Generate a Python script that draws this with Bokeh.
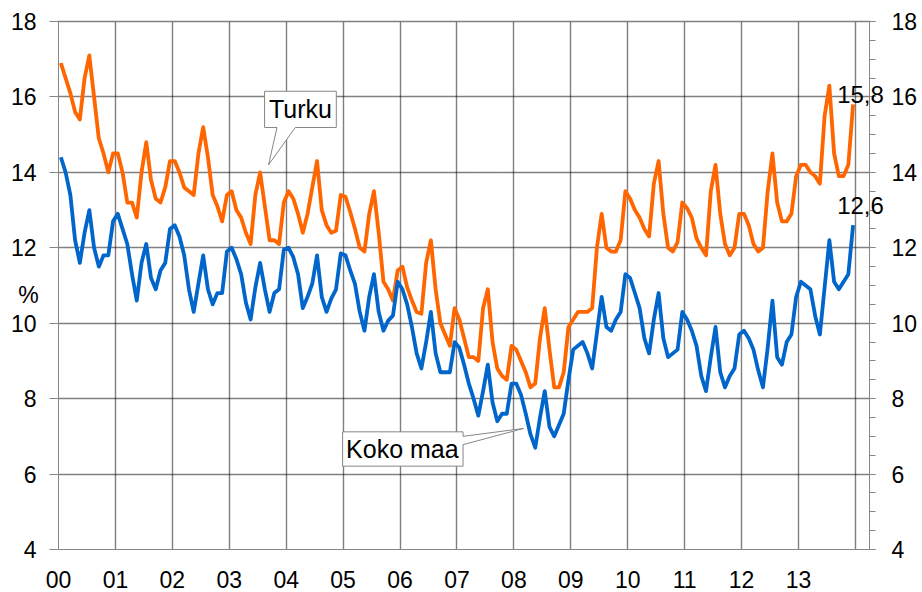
from bokeh.plotting import figure
from bokeh.models import (Range1d, LinearAxis, SingleIntervalTicker, FixedTicker,
                          Label, ColumnDataSource, Grid)
from bokeh.embed import file_html
from bokeh.resources import INLINE
import numpy as np

# ---------------- data ----------------
year_labels = ["00", "01", "02", "03", "04", "05", "06", "07", "08", "09", "10", "11", "12", "13"]

turku = [
    16.9, 16.5, 16.1, 15.6, 15.4, 16.5, 17.1, 16.0, 14.9, 14.5, 14.0, 14.5,
    14.5, 14.0, 13.2, 13.2, 12.8, 14.0, 14.8, 13.8, 13.3, 13.2, 13.6, 14.3,
    14.3, 14.0, 13.6, 13.5, 13.4, 14.5, 15.2, 14.4, 13.4, 13.1, 12.7, 13.4,
    13.5, 13.0, 12.8, 12.4, 12.1, 13.4, 14.0, 13.1, 12.2, 12.2, 12.1, 13.2,
    13.5, 13.3, 12.9, 12.4, 12.9, 13.6, 14.3, 13.0, 12.6, 12.4, 12.45, 13.4,
    13.35, 12.95, 12.5, 12.0, 11.9, 12.9, 13.5, 12.4, 11.1, 10.9, 10.6, 11.4,
    11.5, 10.95, 10.6, 10.3, 10.25, 11.6, 12.2, 10.9, 10.0, 9.7, 9.4, 10.4,
    10.1, 9.6, 9.1, 9.1, 9.0, 10.4, 10.9, 9.5, 8.8, 8.6, 8.5, 9.4,
    9.3, 9.0, 8.7, 8.3, 8.4, 9.6, 10.4, 9.3, 8.3, 8.3, 8.7, 9.9,
    10.1, 10.3, 10.3, 10.3, 10.4, 12.0, 12.9, 12.0, 11.9, 11.9, 12.2, 13.5,
    13.3, 13.0, 12.8, 12.5, 12.3, 13.7, 14.3, 12.9, 12.0, 11.9, 12.15, 13.2,
    13.05, 12.8, 12.25, 12.0, 11.8, 13.5, 14.2, 12.9, 12.1, 11.8, 12.0, 12.9,
    12.9, 12.6, 12.1, 11.9, 12.0, 13.5, 14.5, 13.2, 12.7, 12.7, 12.9, 13.9,
    14.2, 14.2, 14.0, 13.9, 13.7, 15.5, 16.3, 14.5, 13.9, 13.9, 14.2, 15.8,
]

koko_maa = [
    14.4, 14.0, 13.4, 12.2, 11.6, 12.4, 13.0, 12.0, 11.5, 11.8, 11.8, 12.7,
    12.9, 12.5, 12.1, 11.3, 10.6, 11.6, 12.1, 11.2, 10.9, 11.4, 11.6, 12.5,
    12.6, 12.3, 11.8, 10.9, 10.3, 11.05, 11.8, 10.9, 10.5, 10.8, 10.8, 11.9,
    12.0, 11.7, 11.3, 10.55, 10.1, 10.95, 11.6, 10.9, 10.3, 10.8, 10.9, 11.95,
    12.0, 11.75, 11.3, 10.4, 10.7, 11.05, 11.8, 10.7, 10.3, 10.65, 10.9, 11.85,
    11.8, 11.4, 11.04, 10.3, 9.8, 10.7, 11.3, 10.3, 9.8, 10.07, 10.2, 11.1,
    10.9, 10.5, 9.9, 9.2, 8.8, 9.5, 10.3, 9.2, 8.7, 8.7, 8.7, 9.5,
    9.35, 8.9, 8.4, 8.0, 7.55, 8.2, 8.9, 7.9, 7.4, 7.6, 7.6, 8.4,
    8.4, 8.1, 7.6, 7.05, 6.7, 7.5, 8.2, 7.25, 7.0, 7.3, 7.6, 8.5,
    9.3, 9.4, 9.5, 9.2, 8.8, 9.75, 10.7, 9.9, 9.8, 10.1, 10.3, 11.3,
    11.2, 10.8, 10.4, 9.6, 9.2, 10.1, 10.8, 9.6, 9.1, 9.2, 9.3, 10.3,
    10.1, 9.8, 9.4, 8.6, 8.2, 9.1, 9.9, 8.7, 8.3, 8.6, 8.8, 9.7,
    9.8, 9.6, 9.3, 8.75, 8.3, 9.35, 10.6, 9.1, 8.9, 9.5, 9.7, 10.7,
    11.1, 11.0, 10.9, 10.2, 9.7, 10.95, 12.2, 11.1, 10.9, 11.1, 11.3, 12.6,
]

last_turku_label = "15,8"
last_koko_label = "12,6"
y_ticks = [4, 6, 8, 10, 12, 14, 16, 18]

# ---------------- layout constants ----------------
FONT = "Liberation Sans"
ORANGE = "#FF6600"
BLUE = "#0066CC"
GRAY = "#868686"
W, H = 922, 592
# where the chart area sits on the canvas (pixels)
FRAME_LEFT, FRAME_RIGHT, FRAME_TOP, FRAME_BOTTOM = 58, 869, 21, 549
X_END = 170.96           # months shown in the chart area
Y_MIN, Y_MAX = 4, 18

px_per_month = (FRAME_RIGHT - FRAME_LEFT) / X_END
px_per_unit = (FRAME_BOTTOM - FRAME_TOP) / (Y_MAX - Y_MIN)
# the plotting frame covers the whole canvas so that no text is clipped
x_range = Range1d(-FRAME_LEFT / px_per_month, X_END + (W - FRAME_RIGHT) / px_per_month)
y_range = Range1d(Y_MIN - (H - FRAME_BOTTOM) / px_per_unit, Y_MAX + FRAME_TOP / px_per_unit)


def cx(px):   # canvas px -> data x
    return (px - FRAME_LEFT) / px_per_month


def cy(py):   # canvas px -> data y
    return Y_MAX - (py - FRAME_TOP) / px_per_unit


months = np.arange(len(turku)) + 0.5
year_ticks = [12 * k for k in range(len(year_labels))]
grid_ticks = [12 * k for k in range(1, len(year_labels) + 1)]

p = figure(width=W, height=H, output_backend="svg", toolbar_location=None,
           x_range=x_range, y_range=y_range)
p.min_border = 0
p.min_border_left = p.min_border_right = p.min_border_top = p.min_border_bottom = 0
p.outline_line_color = None
p.background_fill_color = "white"
p.border_fill_color = "white"

# grids
p.xgrid.ticker = FixedTicker(ticks=grid_ticks)
p.ygrid.ticker = FixedTicker(ticks=y_ticks[1:])
for g in (p.xgrid, p.ygrid):
    g.grid_line_color = "black"
    g.grid_line_dash = "1 1"
    g.grid_line_width = 1.4
if "cross_bounds" in Grid.properties():
    p.xgrid.cross_bounds = (Y_MIN, Y_MAX)
    p.ygrid.cross_bounds = (0, X_END)
else:
    p.xgrid.visible = False
    p.ygrid.visible = False
    p.segment(x0=grid_ticks, y0=[Y_MIN] * len(grid_ticks), x1=grid_ticks, y1=[Y_MAX] * len(grid_ticks),
              line_color="black", line_dash="1 1", line_width=1.4, level="underlay")
    p.segment(x0=[0] * 7, y0=y_ticks[1:], x1=[X_END] * 7, y1=y_ticks[1:],
              line_color="black", line_dash="1 1", line_width=1.4, level="underlay")

# x axis
xa = p.xaxis[0]
xa.fixed_location = Y_MIN
xa.bounds = (0, X_END)
xa.ticker = FixedTicker(ticks=year_ticks)
xa.major_label_overrides = {t: lab for t, lab in zip(year_ticks, year_labels)}
xa.major_tick_line_color = None
xa.minor_tick_line_color = None
xa.axis_line_color = GRAY
xa.major_label_text_font = FONT
xa.major_label_text_font_size = "23px"
xa.major_label_text_color = "black"
xa.major_label_standoff = 15

# left y axis
ya = p.yaxis[0]
ya.fixed_location = 0
ya.bounds = (Y_MIN, Y_MAX)
ya.ticker = FixedTicker(ticks=y_ticks)
ya.axis_line_color = GRAY
ya.major_tick_line_color = GRAY
ya.major_tick_out = 9
ya.major_tick_in = 0
ya.minor_tick_line_color = None
ya.major_label_text_font = FONT
ya.major_label_text_font_size = "23px"
ya.major_label_text_color = "black"
ya.major_label_standoff = 13

# right y axis
ra = LinearAxis(ticker=SingleIntervalTicker(interval=2, num_minor_ticks=4),
                fixed_location=X_END, bounds=(Y_MIN, Y_MAX))
ra.axis_line_color = GRAY
ra.major_tick_line_color = GRAY
ra.minor_tick_line_color = GRAY
ra.major_tick_out = 6
ra.major_tick_in = 0
ra.minor_tick_out = 6
ra.minor_tick_in = 0
ra.major_label_text_font = FONT
ra.major_label_text_font_size = "23px"
ra.major_label_text_color = "black"
ra.major_label_standoff = 16
p.add_layout(ra, "right")

# series
src = ColumnDataSource(dict(x=months, turku=turku, koko=koko_maa))
p.line("x", "turku", source=src, line_color=ORANGE, line_width=3.8, line_join="round")
p.line("x", "koko", source=src, line_color=BLUE, line_width=3.8, line_join="round")

# callouts (data-space positions)
tb = dict(x0=43.44, x1=58.56, y0=15.19, y1=16.15, pb1=46.06, pb2=49.92, tipx=44.28, tipy=14.20)
p.patch([tb["x0"], tb["x1"], tb["x1"], tb["pb2"], tb["tipx"], tb["pb1"], tb["x0"]],
        [tb["y1"], tb["y1"], tb["y0"], tb["y0"], tb["tipy"], tb["y0"], tb["y0"]],
        fill_color="white", line_color=GRAY, line_width=1)
p.add_layout(Label(x=(tb["x0"] + tb["x1"]) / 2, y=15.67, text="Turku",
                   text_font=FONT, text_font_size="25px", text_color="black",
                   text_align="center", text_baseline="middle"))

kb = dict(x0=59.89, x1=85.28, y0=6.21, y1=7.12, pa=7.00, pb=6.78, tipx=98.05, tipy=7.21)
p.patch([kb["x0"], kb["x1"], kb["x1"], kb["tipx"], kb["x1"], kb["x1"], kb["x0"]],
        [kb["y1"], kb["y1"], kb["pa"], kb["tipy"], kb["pb"], kb["y0"], kb["y0"]],
        fill_color="white", line_color=GRAY, line_width=1)
p.add_layout(Label(x=72.48, y=6.66, text="Koko maa",
                   text_font=FONT, text_font_size="25px", text_color="black",
                   text_align="center", text_baseline="middle"))


def text_label(px, py, text, size):
    return Label(x=cx(px), y=cy(py), text=text, text_font=FONT, text_font_size=size,
                 text_color="black", text_align="center", text_baseline="middle")


p.add_layout(text_label(860, 94, last_turku_label, "24px"))
p.add_layout(text_label(860, 205, last_koko_label, "24px"))
p.add_layout(text_label(28, 294, "%", "23px"))

open("out.html", "w").write(file_html(p, INLINE))
